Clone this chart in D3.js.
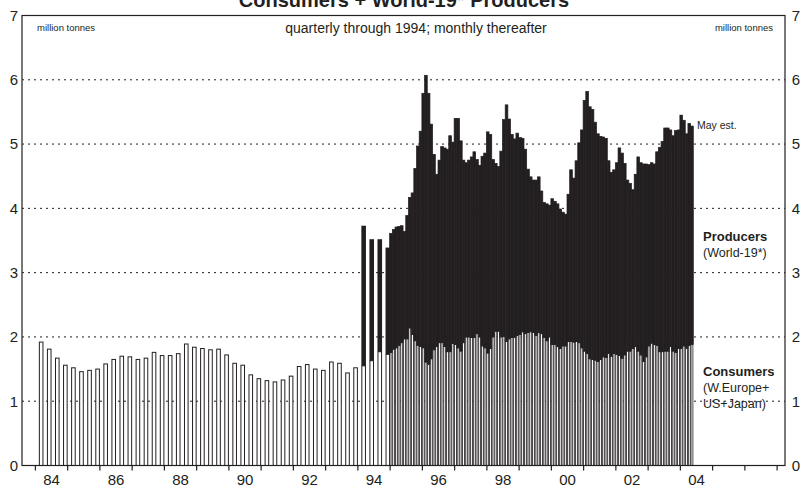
<!DOCTYPE html>
<html lang="en">
<head>
<meta charset="UTF-8">
<title>Consumers + World-19* Producers</title>
<script src="https://cdn.jsdelivr.net/npm/d3@7"></script>
<style>
  body { margin: 0; background: #fff; }
  svg text { font-family: "Liberation Sans Narrow", "Liberation Sans", Arial, sans-serif; fill: #231f20; }
</style>
</head>
<body>
<script>
// consumer stocks, quarterly 1984 Q1 - 1994 Q4 (million tonnes)
const consumersQ = [
  1.92, 1.81, 1.67, 1.56,
  1.52, 1.46, 1.48, 1.50,
  1.58, 1.65, 1.70, 1.69,
  1.65, 1.67, 1.76, 1.71,
  1.71, 1.74, 1.89, 1.84,
  1.82, 1.80, 1.81, 1.72,
  1.59, 1.56, 1.41, 1.35,
  1.32, 1.30, 1.33, 1.39,
  1.54, 1.57, 1.50, 1.48,
  1.61, 1.59, 1.44, 1.52,
  1.55, 1.63, 1.77, 1.73
];
// producer stocks start in 1994 (quarterly)
const producerStartYear = 1994;
const producersQ = [2.18, 1.89, 1.75, 1.66];

// monthly, Jan 1995 - May 2004
const consumersM = [
  1.76, 1.81, 1.83, 1.87, 1.91, 1.97, 1.97, 2.14, 2.04, 1.94, 1.87, 1.85,
  1.83, 1.61, 1.58, 1.66, 1.80, 1.85, 1.91, 1.91, 1.85, 1.77, 1.77, 1.90,
  1.88, 1.83, 1.78, 1.91, 2.00, 2.00, 1.99, 1.99, 2.05, 2.00, 1.86, 1.83,
  1.75, 1.82, 2.00, 2.09, 2.09, 2.00, 2.01, 1.93, 1.97, 1.99, 2.00, 2.02,
  2.04, 2.08, 2.05, 2.07, 2.08, 2.07, 2.02, 2.07, 2.05, 1.99, 1.94, 2.00,
  1.88, 1.88, 1.85, 1.82, 1.86, 1.86, 1.93, 1.93, 1.92, 1.93, 1.91, 1.83,
  1.78, 1.74, 1.66, 1.65, 1.64, 1.62, 1.65, 1.69, 1.68, 1.75, 1.70, 1.74,
  1.73, 1.71, 1.67, 1.72, 1.78, 1.78, 1.82, 1.85, 1.78, 1.72, 1.62, 1.69,
  1.86, 1.91, 1.88, 1.87, 1.77, 1.77, 1.78, 1.78, 1.85, 1.78, 1.76, 1.82,
  1.82, 1.86, 1.83, 1.87, 1.88
];
const producersM = [
  1.85, 1.86, 1.88, 1.85, 1.82, 1.67, 1.92, 2.03, 2.20, 2.68, 3.10, 3.35,
  3.96, 4.46, 4.21, 3.65, 3.04, 2.68, 2.84, 3.05, 3.09, 3.15, 3.36, 3.13,
  3.52, 3.57, 3.27, 2.84, 2.71, 2.75, 2.81, 2.89, 2.71, 2.67, 2.95, 3.03,
  3.44, 3.33, 2.76, 2.61, 2.56, 2.89, 3.37, 3.68, 3.42, 3.16, 3.08, 3.15,
  3.06, 3.01, 2.87, 2.54, 2.41, 2.37, 2.42, 2.42, 2.22, 2.10, 2.13, 2.05,
  2.27, 2.23, 2.22, 2.17, 2.08, 2.05, 2.29, 2.67, 2.55, 2.81, 3.11, 3.39,
  3.90, 4.08, 3.92, 3.89, 3.70, 3.54, 3.47, 3.42, 3.41, 2.99, 2.86, 2.86,
  2.98, 3.23, 3.19, 2.98, 2.66, 2.61, 2.47, 2.68, 3.02, 2.99, 3.07, 3.00,
  2.82, 2.80, 2.81, 3.01, 3.18, 3.27, 3.47, 3.47, 3.37, 3.35, 3.45, 3.40,
  3.63, 3.51, 3.33, 3.45, 3.40
];

const yTicks = [0, 1, 2, 3, 4, 5, 6, 7];
const gridValues = [1, 2, 3, 4, 5, 6];
const yearTicks = d3.range(1984, 2008);
const labelYears = [1984, 1986, 1988, 1990, 1992, 1994, 1996, 1998, 2000, 2002, 2004];
const yearLabels = ["84", "86", "88", "90", "92", "94", "96", "98", "00", "02", "04"];

const width = 809, height = 491;
const svg = d3.select('body').append('svg').attr('width', width).attr('height', height);

const x = d3.scaleLinear().domain([1983.6, 2007.26]).range([22, 785]);
const y = d3.scaleLinear().domain([0, 7]).range([465.5, 15.5]);

// gridlines
svg.selectAll('.grid').data(gridValues).enter().append('line')
  .attr('class', 'grid')
  .attr('x1', 22).attr('x2', 785)
  .attr('y1', d => y(d)).attr('y2', d => y(d))
  .attr('stroke', '#231f20').attr('stroke-width', 1)
  .attr('stroke-dasharray', '2,4');

// quarterly bars
const firstProd = (producerStartYear - 1984) * 4;
const quarters = consumersQ.map((v, i) => ({
  end: 1984 + (i + 1) / 4,
  cons: v,
  prod: i >= firstProd ? producersQ[i - firstProd] : null
}));

svg.selectAll('.consQ').data(quarters).enter().append('rect')
  .attr('class', 'consQ')
  .attr('x', d => x(d.end) - 3.6)
  .attr('width', 3.6)
  .attr('y', d => y(d.cons))
  .attr('height', d => y(0) - y(d.cons))
  .attr('fill', '#fff').attr('stroke', '#231f20').attr('stroke-width', 1);

svg.selectAll('.prodQ').data(quarters.filter(d => d.prod != null)).enter().append('rect')
  .attr('class', 'prodQ')
  .attr('x', d => x(d.end) - 4.1)
  .attr('width', 4.6)
  .attr('y', d => y(d.cons + d.prod))
  .attr('height', d => y(d.cons) - y(d.cons + d.prod))
  .attr('fill', '#231f20');

// monthly bars
const months = consumersM.map((v, i) => ({
  start: 1995 + i / 12,
  end: 1995 + (i + 1) / 12,
  cons: v,
  prod: producersM[i]
}));

svg.selectAll('.consM').data(months).enter().append('rect')
  .attr('class', 'consM')
  .attr('x', d => x(d.start) + 0.4)
  .attr('width', d => x(d.end) - x(d.start) - 0.8)
  .attr('y', d => y(d.cons))
  .attr('height', d => y(0) - y(d.cons))
  .attr('fill', '#fff').attr('stroke', '#231f20').attr('stroke-width', 0.8);

svg.selectAll('.prodM').data(months).enter().append('rect')
  .attr('class', 'prodM')
  .attr('x', d => x(d.start))
  .attr('width', d => x(d.end) - x(d.start))
  .attr('y', d => y(d.cons + d.prod))
  .attr('height', d => y(d.cons) - y(d.cons + d.prod))
  .attr('fill', '#231f20')
  .attr('stroke', '#231f20').attr('stroke-width', 0.7);

// frame
svg.append('rect')
  .attr('x', 22).attr('y', 15.5).attr('width', 763).attr('height', 450)
  .attr('fill', 'none').attr('stroke', '#231f20').attr('stroke-width', 1.2);

// x axis: year ticks + labels at mid-year
const xAxis = svg.append('g').attr('transform', 'translate(0,465.5)')
  .call(d3.axisBottom(x).tickValues(yearTicks).tickSize(5).tickFormat(''));
xAxis.select('.domain').remove();
xAxis.selectAll('line').attr('stroke', '#231f20').attr('stroke-width', 1.2);

const xLabels = svg.append('g').attr('transform', 'translate(0,471)')
  .call(d3.axisBottom(x).tickValues(labelYears.map(d => d + 0.5)).tickSize(0)
    .tickFormat((d, i) => yearLabels[i]));
xLabels.select('.domain').remove();
xLabels.selectAll('text').attr('font-size', 15).attr('dy', '0.75em');

// y labels, both sides
const yLeft = svg.append('g').attr('transform', 'translate(19,0)')
  .call(d3.axisLeft(y).tickValues(yTicks).tickSize(0).tickPadding(0).tickFormat(d3.format('d')));
yLeft.select('.domain').remove();
yLeft.selectAll('text').attr('font-size', 15).attr('text-anchor', 'middle').attr('x', -5);

const yRight = svg.append('g').attr('transform', 'translate(791,0)')
  .call(d3.axisRight(y).tickValues(yTicks).tickSize(0).tickPadding(0).tickFormat(d3.format('d')));
yRight.select('.domain').remove();
yRight.selectAll('text').attr('font-size', 15).attr('text-anchor', 'middle').attr('x', 5);

// titles and notes
svg.append('text').attr('x', 404).attr('y', 7).attr('text-anchor', 'middle')
  .attr('font-size', 20).attr('font-weight', 'bold')
  .text('Consumers + World-19* Producers');
svg.append('text').attr('x', 416).attr('y', 33).attr('text-anchor', 'middle')
  .attr('font-size', 14).text('quarterly through 1994; monthly thereafter');
svg.append('text').attr('x', 37).attr('y', 31).attr('font-size', 9.5).text('million tonnes');
svg.append('text').attr('x', 773).attr('y', 31).attr('text-anchor', 'end')
  .attr('font-size', 9.5).text('million tonnes');

svg.append('text').attr('x', 697).attr('y', 129).attr('font-size', 10.5).text('May est.');
svg.append('text').attr('x', 703).attr('y', 241).attr('font-size', 13).attr('font-weight', 'bold').text('Producers');
svg.append('text').attr('x', 703).attr('y', 257).attr('font-size', 12.5).text('(World-19*)');
svg.append('text').attr('x', 703).attr('y', 376).attr('font-size', 13).attr('font-weight', 'bold').text('Consumers');
svg.append('text').attr('x', 703).attr('y', 392).attr('font-size', 12.5).text('(W.Europe+');
svg.append('text').attr('x', 703).attr('y', 408).attr('font-size', 12.5).text('US+Japan)');
</script>
</body>
</html>
